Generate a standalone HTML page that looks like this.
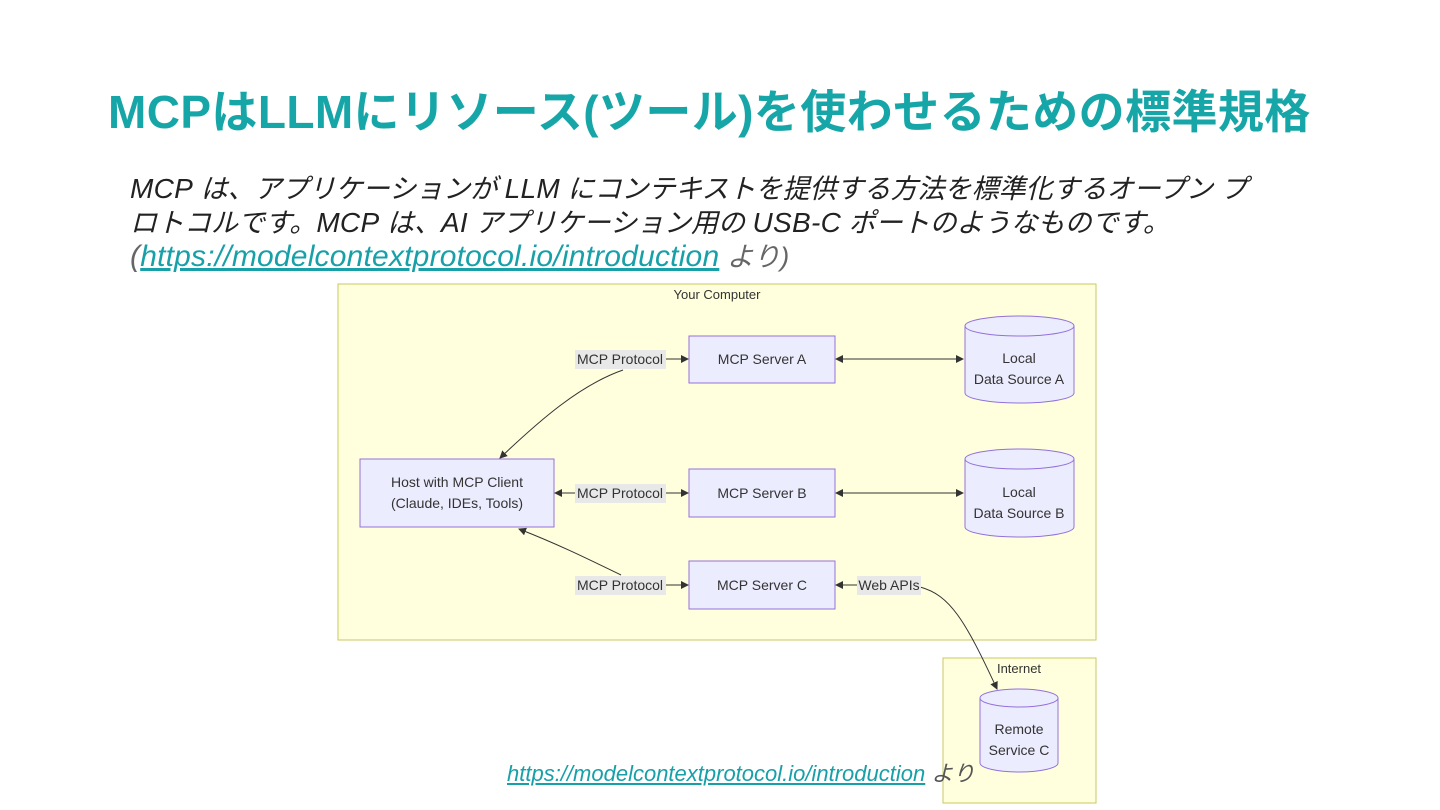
<!DOCTYPE html>
<html><head><meta charset="utf-8"><style>
body{margin:0;width:1440px;height:810px;background:#fff;position:relative;overflow:hidden;font-family:"Liberation Sans","Noto Sans CJK JP",sans-serif}
.t{position:absolute;left:108px;top:76px;font-size:46px;font-weight:bold;color:#17a6a8;letter-spacing:0.4px;white-space:nowrap}
.b{position:absolute;left:130px;top:172px;font-size:27px;font-style:italic;color:#222;line-height:33px;white-space:nowrap}
.b .l{font-size:28px;letter-spacing:0.3px}
.b .k{font-size:30px;letter-spacing:0.2px}
.b a,.f a{color:#17a0a8;text-decoration:underline}
.f{position:absolute;left:507px;top:756px;font-size:22px;font-style:italic;color:#555;white-space:nowrap}
svg{position:absolute;left:0;top:0}
</style></head><body>
<div class="t">MCPはLLMにリソース(ツール)を使わせるための標準規格</div>
<div class="b"><span class="l">MCP</span> は、アプリケーションが <span class="l">LLM</span> にコンテキストを提供する方法を標準化するオープン プ<br>ロトコルです。<span class="l">MCP</span> は、<span class="l">AI</span> アプリケーション用の <span class="l">USB-C</span> ポートのようなものです。<br><span style="color:#666"><span class="k">(<a>https://modelcontextprotocol.io/introduction</a></span> より)</span></div>
<svg width="1440" height="810" font-family="Liberation Sans, sans-serif" font-size="14" fill="#333">
<defs><marker id="a" markerWidth="8" markerHeight="8" refX="7" refY="4" orient="auto-start-reverse"><path d="M0,0L8,4L0,8z" fill="#333"/></marker></defs>
<rect x="338" y="284" width="758" height="356" fill="#ffffde" stroke="#c8c860"/>
<rect x="943" y="658" width="153" height="145" fill="#ffffde" stroke="#c8c860"/>
<text x="717" y="299" text-anchor="middle" font-size="13">Your Computer</text>
<text x="1019" y="673" text-anchor="middle" font-size="13">Internet</text>
<g fill="#ececff" stroke="#9370db">
<rect x="689" y="336" width="146" height="47"/><rect x="689" y="469" width="146" height="48"/><rect x="689" y="561" width="146" height="48"/><rect x="360" y="459" width="194" height="68"/>
<path d="M965,326 a54.5,10 0 0 1 109,0 v67 a54.5,10 0 0 1 -109,0z"/><path d="M965,326 a54.5,10 0 0 0 109,0"/>
<path d="M965,459 a54.5,10 0 0 1 109,0 v68 a54.5,10 0 0 1 -109,0z"/><path d="M965,459 a54.5,10 0 0 0 109,0"/>
<path d="M980,698 a39,9 0 0 1 78,0 v65 a39,9 0 0 1 -78,0z"/><path d="M980,698 a39,9 0 0 0 78,0"/>
</g>
<g fill="none" stroke="#333" stroke-width="1">
<line x1="666" y1="359" x2="688" y2="359" marker-end="url(#a)"/>
<line x1="836" y1="359" x2="963" y2="359" marker-start="url(#a)" marker-end="url(#a)"/>
<line x1="555" y1="493" x2="575" y2="493" marker-start="url(#a)"/>
<line x1="666" y1="493" x2="688" y2="493" marker-end="url(#a)"/>
<line x1="836" y1="493" x2="963" y2="493" marker-start="url(#a)" marker-end="url(#a)"/>
<line x1="666" y1="585" x2="688" y2="585" marker-end="url(#a)"/>
<line x1="836" y1="585" x2="857" y2="585" marker-start="url(#a)"/>
<path d="M623,370 C580,385 540,420 500,458" marker-end="url(#a)"/>
<path d="M621,575 C590,560 560,545 519,529" marker-end="url(#a)"/>
<path d="M920,587 C950,595 965,620 997,689" marker-end="url(#a)"/>
</g>
<g fill="#e8e8e8"><rect x="575" y="350" width="91" height="19"/><rect x="575" y="484" width="91" height="19"/><rect x="575" y="576" width="91" height="19"/><rect x="857" y="576" width="64" height="19"/></g>
<g text-anchor="middle">
<text x="620" y="364">MCP Protocol</text><text x="620" y="498">MCP Protocol</text><text x="620" y="590">MCP Protocol</text><text x="889" y="590">Web APIs</text>
<text x="762" y="364">MCP Server A</text><text x="762" y="498">MCP Server B</text><text x="762" y="590">MCP Server C</text>
<text x="457" y="487">Host with MCP Client</text><text x="457" y="508">(Claude, IDEs, Tools)</text>
<text x="1019" y="363">Local</text><text x="1019" y="384">Data Source A</text>
<text x="1019" y="497">Local</text><text x="1019" y="518">Data Source B</text>
<text x="1019" y="734">Remote</text><text x="1019" y="755">Service C</text>
</g>
</svg>
<div class="f"><a>https://modelcontextprotocol.io/introduction</a> より</div>
</body></html>
